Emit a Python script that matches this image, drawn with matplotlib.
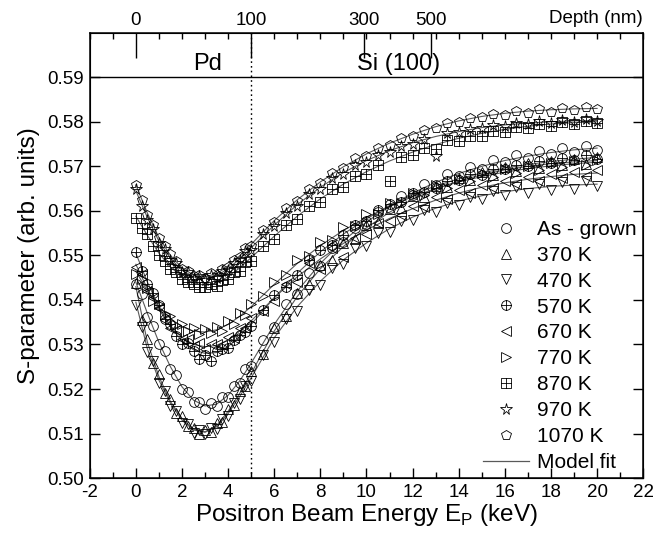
"""S-parameter vs positron beam energy for annealed Pd/Si(100)."""
import matplotlib
matplotlib.use('Agg')
import matplotlib.pyplot as plt
from matplotlib.path import Path
from matplotlib.ticker import MultipleLocator, FixedLocator

plt.rcParams['font.family'] = ['Liberation Sans', 'DejaVu Sans']
plt.rcParams['axes.unicode_minus'] = False

# measured energies (keV)
E = [0, 0.25, 0.5, 0.75, 1, 1.25, 1.5, 1.75, 2, 2.25,
     2.5, 2.75, 3, 3.25, 3.5, 3.75, 4, 4.25, 4.5, 4.75,
     5, 5.5, 6, 6.5, 7, 7.5, 8, 8.5, 9, 9.5,
     10, 10.5, 11, 11.5, 12, 12.5, 13, 13.5, 14, 14.5,
     15, 15.5, 16, 16.5, 17, 17.5, 18, 18.5, 19, 19.5, 20]

s_asgrown = [.5436, .5414, .5362, .5341, .5300, .5286, .5244, .5231, .5199, .5194,
             .5170, .5171, .5156, .5168, .5161, .5181, .5183, .5207, .5214, .5244,
             .5252, .5309, .5339, .5392, .5414, .5460, .5477, .5516, .5529, .5561,
             .5570, .5598, .5607, .5633, .5636, .5660, .5659, .5682, .5679, .5699,
             .5695, .5715, .5709, .5725, .5718, .5734, .5727, .5741, .5733, .5746, .5737]
s_370 = [.5437, .5355, .5312, .5258, .5233, .5191, .5177, .5146, .5139, .5116,
         .5113, .5099, .5108, .5104, .5123, .5127, .5156, .5164, .5196, .5207,
         .5241, .5278, .5337, .5364, .5415, .5435, .5478, .5489, .5527, .5536,
         .5569, .5574, .5604, .5606, .5633, .5632, .5656, .5653, .5674, .5669,
         .5688, .5681, .5699, .5690, .5707, .5697, .5713, .5702, .5717, .5706, .5720]
s_470 = [.5388, .5340, .5283, .5262, .5214, .5196, .5162, .5150, .5124, .5121,
         .5102, .5109, .5098, .5112, .5110, .5133, .5140, .5168, .5178, .5207,
         .5219, .5276, .5306, .5357, .5376, .5422, .5433, .5472, .5480, .5516,
         .5520, .5550, .5552, .5578, .5579, .5601, .5598, .5618, .5613, .5632,
         .5626, .5645, .5636, .5653, .5641, .5661, .5647, .5664, .5650, .5668, .5655]
s_570 = [.5508, .5466, .5436, .5416, .5388, .5358, .5346, .5320, .5300, .5303,
         .5286, .5268, .5277, .5264, .5285, .5289, .5293, .5309, .5321, .5329,
         .5341, .5378, .5410, .5430, .5456, .5489, .5512, .5524, .5545, .5569,
         .5578, .5602, .5615, .5620, .5640, .5643, .5652, .5667, .5669, .5682,
         .5681, .5694, .5693, .5703, .5700, .5712, .5708, .5719, .5714, .5726, .5717]
s_670 = [.5473, .5458, .5419, .5405, .5382, .5354, .5338, .5333, .5312, .5313,
         .5296, .5303, .5290, .5300, .5302, .5298, .5316, .5315, .5337, .5336,
         .5360, .5375, .5398, .5436, .5441, .5482, .5470, .5516, .5496, .5540,
         .5548, .5573, .5577, .5590, .5612, .5608, .5631, .5626, .5646, .5640,
         .5659, .5652, .5668, .5660, .5676, .5668, .5682, .5674, .5688, .5679, .5691]
s_770 = [.5458, .5447, .5426, .5397, .5391, .5369, .5365, .5343, .5346, .5331,
         .5337, .5324, .5334, .5326, .5340, .5331, .5352, .5347, .5370, .5366,
         .5392, .5408, .5441, .5456, .5490, .5499, .5529, .5534, .5563, .5566,
         .5592, .5593, .5617, .5617, .5639, .5636, .5657, .5652, .5671, .5666,
         .5684, .5676, .5693, .5685, .5701, .5692, .5707, .5698, .5712, .5702, .5715]
s_870 = [.5585, .5562, .5548, .5520, .5500, .5488, .5470, .5462, .5448, .5441,
         .5435, .5430, .5428, .5436, .5432, .5445, .5448, .5463, .5466, .5485,
         .5488, .5522, .5536, .5568, .5582, .5612, .5620, .5648, .5654, .5678,
         .5683, .5702, .5666, .5722, .5726, .5742, .5740, .5758, .5757, .5769,
         .5768, .5780, .5777, .5788, .5785, .5794, .5791, .5799, .5795, .5802, .5797]
s_970 = [.5648, .5612, .5580, .5560, .5528, .5514, .5490, .5482, .5463, .5462,
         .5449, .5453, .5444, .5456, .5450, .5465, .5468, .5484, .5490, .5510,
         .5512, .5548, .5565, .5596, .5610, .5637, .5650, .5674, .5683, .5703,
         .5710, .5726, .5732, .5745, .5750, .5762, .5723, .5774, .5776, .5784,
         .5785, .5792, .5790, .5797, .5795, .5801, .5798, .5804, .5800, .5806, .5801]
s_1070 = [.5658, .5624, .5590, .5568, .5538, .5522, .5503, .5488, .5470, .5466,
          .5454, .5457, .5450, .5460, .5456, .5470, .5474, .5490, .5496, .5516,
          .5520, .5556, .5575, .5606, .5622, .5648, .5662, .5686, .5696, .5718,
          .5724, .5742, .5748, .5764, .5768, .5782, .5786, .5797, .5800, .5809,
          .5810, .5818, .5816, .5825, .5820, .5829, .5823, .5832, .5826, .5834, .5828]

# model fit curves
E_fit = [0, 0.5, 1, 1.5, 2, 2.5, 3, 3.5, 4, 4.5, 5, 6, 7, 8, 9, 10,
         11, 12, 13, 14, 15, 16, 17, 18, 19, 20]
fit_asgrown = [.5440, .5370, .5305, .5250, .5205, .5175, .5162, .5166, .5186, .5218, .5258, .5345, .5420,
               .5482, .5533, .5575, .5610, .5640, .5664, .5684, .5700, .5713, .5723, .5731, .5737, .5741]
fit_370 = [.5430, .5305, .5228, .5172, .5134, .5110, .5104, .5118, .5150, .5190, .5235, .5330, .5408,
           .5470, .5520, .5562, .5597, .5626, .5649, .5667, .5681, .5692, .5700, .5706, .5710, .5713]
fit_470 = [.5395, .5290, .5220, .5168, .5130, .5108, .5103, .5115, .5145, .5183, .5225, .5315, .5385,
           .5442, .5490, .5528, .5560, .5586, .5606, .5622, .5634, .5643, .5650, .5655, .5658, .5660]
fit_570 = [.5505, .5440, .5385, .5340, .5308, .5288, .5280, .5282, .5295, .5318, .5345, .5405, .5460,
           .5508, .5548, .5582, .5612, .5636, .5656, .5672, .5685, .5696, .5704, .5711, .5716, .5720]
fit_670 = [.5480, .5425, .5378, .5342, .5316, .5300, .5295, .5298, .5310, .5330, .5353, .5405, .5452,
           .5492, .5527, .5557, .5583, .5605, .5624, .5640, .5653, .5663, .5671, .5677, .5682, .5685]
fit_770 = [.5465, .5420, .5385, .5358, .5340, .5330, .5328, .5333, .5345, .5363, .5385, .5435, .5482,
           .5522, .5556, .5585, .5610, .5632, .5650, .5665, .5677, .5687, .5695, .5701, .5706, .5709]
fit_870 = [.5588, .5545, .5505, .5474, .5452, .5438, .5433, .5438, .5452, .5472, .5495, .5543, .5588,
           .5627, .5660, .5688, .5712, .5732, .5749, .5763, .5774, .5783, .5790, .5795, .5798, .5800]
fit_970 = [.5645, .5585, .5532, .5493, .5467, .5452, .5448, .5454, .5470, .5492, .5517, .5568, .5614,
           .5653, .5686, .5713, .5735, .5753, .5767, .5778, .5787, .5793, .5797, .5800, .5802, .5803]
fit_1070 = [.5658, .5595, .5540, .5500, .5472, .5456, .5452, .5459, .5476, .5499, .5525, .5578, .5625,
            .5665, .5699, .5728, .5752, .5772, .5789, .5802, .5812, .5819, .5824, .5827, .5829, .5830]

labels = ['As - grown', '370 K', '470 K', '570 K', '670 K', '770 K', '870 K', '970 K', '1070 K']

depth_pos = [0, 5, 9.9, 12.8]
depth_labels = ['0', '100', '300', '500']

# circle-plus and square-plus markers
cross = Path([(-1, 0), (1, 0), (0, -1), (0, 1)],
             [Path.MOVETO, Path.LINETO, Path.MOVETO, Path.LINETO])
oplus = Path.make_compound_path(Path.unit_circle(), cross)
sq = Path([(-1, -1), (1, -1), (1, 1), (-1, 1), (-1, -1)],
          [Path.MOVETO, Path.LINETO, Path.LINETO, Path.LINETO, Path.CLOSEPOLY])
boxplus = Path.make_compound_path(sq, cross)

series = [s_asgrown, s_370, s_470, s_570, s_670, s_770, s_870, s_970, s_1070]
fits = [fit_asgrown, fit_370, fit_470, fit_570, fit_670, fit_770, fit_870, fit_970, fit_1070]
markers = ['o', '^', 'v', oplus, '<', '>', boxplus, '*', 'p']
sizes = [7, 7.5, 7.5, 7, 7.5, 7.5, 6.5, 8.5, 7.5]

fig = plt.figure(figsize=(6.55, 5.36), dpi=100)
ax = fig.add_axes([0.137, 0.108, 0.845, 0.831])

for f in fits:
    ax.plot(E_fit, f, color='0.35', lw=0.8, zorder=2)

handles = []
for s, m, ms, lab in zip(series, markers, sizes, labels):
    h, = ax.plot(E, s, ls='none', marker=m, ms=ms, mfc='none', mec='black',
                 mew=0.6, label=lab, zorder=3)
    handles.append(h)
fit_h, = ax.plot([], [], color='0.35', lw=0.9, label='Model fit')
handles.append(fit_h)

ax.axhline(0.59, color='black', lw=1.0)
ax.axvline(5, color='black', lw=1.0, ls=(0, (1.2, 2.2)))

ax.set_xlim(-2, 22)
ax.set_ylim(0.50, 0.60)
ax.xaxis.set_major_locator(MultipleLocator(2))
ax.xaxis.set_minor_locator(MultipleLocator(1))
ax.yaxis.set_major_locator(FixedLocator([0.50 + 0.01 * i for i in range(10)]))
ax.set_yticklabels(['%.2f' % (0.50 + 0.01 * i) for i in range(10)])
ax.tick_params(which='both', direction='in', right=True, top=False, labelsize=13.5, width=1.0)
ax.tick_params(which='major', length=7, pad=4)
ax.tick_params(which='minor', length=4)
for sp in ax.spines.values():
    sp.set_linewidth(1.1)

ax.set_xlabel('Positron Beam Energy E$_{\\mathregular{P}}$ (keV)', fontsize=17.5, labelpad=1)
ax.set_ylabel('S-parameter (arb. units)', fontsize=17.5, labelpad=5)

# depth scale on top
ax2 = ax.twiny()
ax2.set_xlim(ax.get_xlim())
ax2.xaxis.set_major_locator(FixedLocator(depth_pos))
ax2.set_xticklabels(depth_labels)
ax2.xaxis.set_minor_locator(MultipleLocator(1))
ax2.tick_params(which='major', direction='in', length=18, width=1.0, labelsize=13.5, pad=3)
ax2.tick_params(which='minor', direction='in', length=4, width=1.0)
ax.text(1.0, 1.012, 'Depth (nm)', transform=ax.transAxes, ha='right', va='bottom', fontsize=13.5)

ax.text(3.1, 0.5904, 'Pd', ha='center', va='bottom', fontsize=17)
ax.text(11.4, 0.5904, 'Si (100)', ha='center', va='bottom', fontsize=17)

ax.legend(handles=handles, loc='lower right', bbox_to_anchor=(1.0, 0.0), frameon=False,
          fontsize=15, handlelength=2.2, handletextpad=0.4, labelspacing=0.33,
          borderaxespad=0.1, borderpad=0.2)

fig.savefig('out.png', dpi=100)
